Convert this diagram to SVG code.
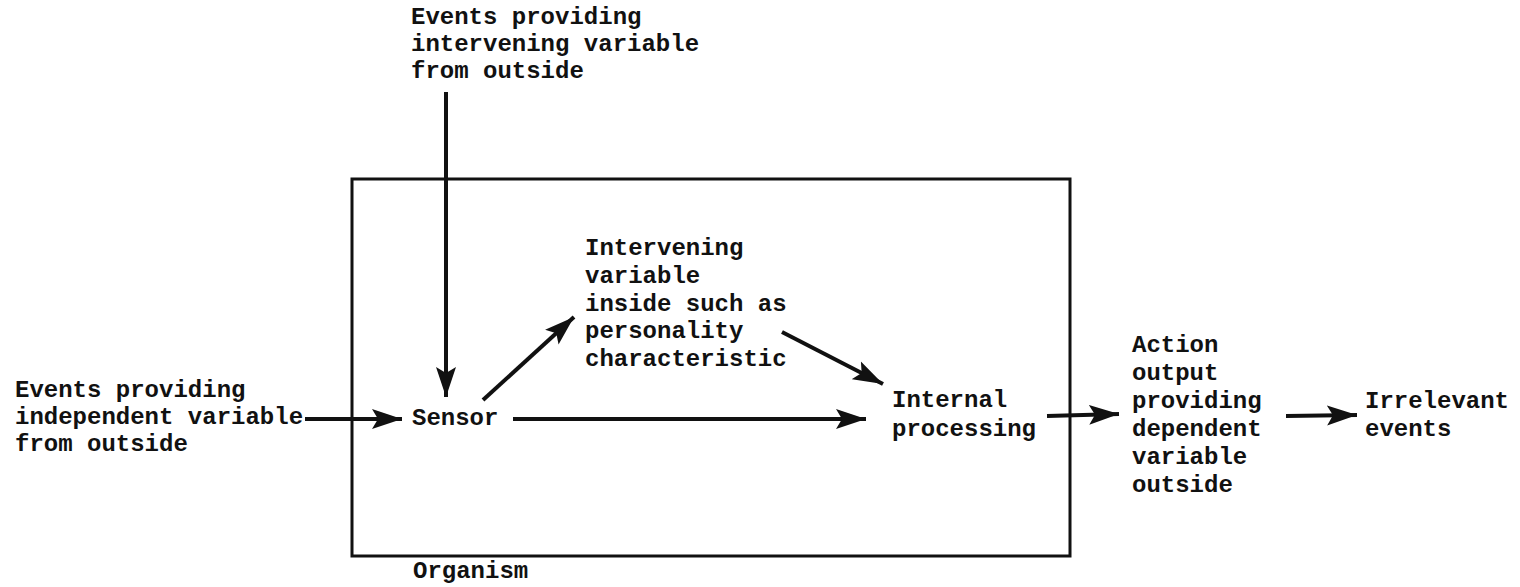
<svg xmlns="http://www.w3.org/2000/svg" width="1520" height="587" viewBox="0 0 1520 587">
<style>
text{font-family:"Liberation Mono","DejaVu Sans Mono",monospace;font-weight:bold;font-size:24px;fill:#111}
.box{fill:none;stroke:#111;stroke-width:3}
.conn{fill:none;stroke:#111;stroke-width:4;marker-end:url(#ah)}
</style>
<defs>
<marker id="ah" markerUnits="userSpaceOnUse" markerWidth="32" markerHeight="22" viewBox="0 0 32 22" refX="30" refY="11" orient="auto">
<path d="M0,1 L30,11 L0,21 L6,11 Z" fill="#111"/>
</marker>
</defs>
<rect id="organism-box" class="box" x="352" y="179" width="718" height="377"/>
<g id="connectors">
<line class="conn" x1="446" y1="92" x2="446" y2="397"/>
<line class="conn" x1="305" y1="419" x2="402" y2="419"/>
<line class="conn" x1="513" y1="419" x2="866" y2="419"/>
<line class="conn" x1="483" y1="400" x2="574" y2="317"/>
<line class="conn" x1="782" y1="332" x2="883" y2="384"/>
<line class="conn" x1="1047" y1="416" x2="1119" y2="414"/>
<line class="conn" x1="1286" y1="416" x2="1357" y2="415"/>
</g>
<g id="events-intervening"><text x="411" y="24">Events providing</text><text x="411" y="51">intervening variable</text><text x="411" y="78">from outside</text></g>
<g id="events-independent"><text x="15" y="397">Events providing</text><text x="15" y="424">independent variable</text><text x="15" y="451">from outside</text></g>
<g id="sensor"><text x="412" y="425">Sensor</text></g>
<g id="intervening-inside"><text x="585" y="255">Intervening</text><text x="585" y="283">variable</text><text x="585" y="311">inside such as</text><text x="585" y="338">personality</text><text x="585" y="366">characteristic</text></g>
<g id="internal-processing"><text x="892" y="407">Internal</text><text x="892" y="436">processing</text></g>
<g id="action-output"><text x="1132" y="352">Action</text><text x="1132" y="380">output</text><text x="1132" y="408">providing</text><text x="1132" y="436">dependent</text><text x="1132" y="464">variable</text><text x="1132" y="492">outside</text></g>
<g id="irrelevant-events"><text x="1365" y="408">Irrelevant</text><text x="1365" y="436">events</text></g>
<g id="organism"><text x="413" y="578">Organism</text></g>
</svg>
